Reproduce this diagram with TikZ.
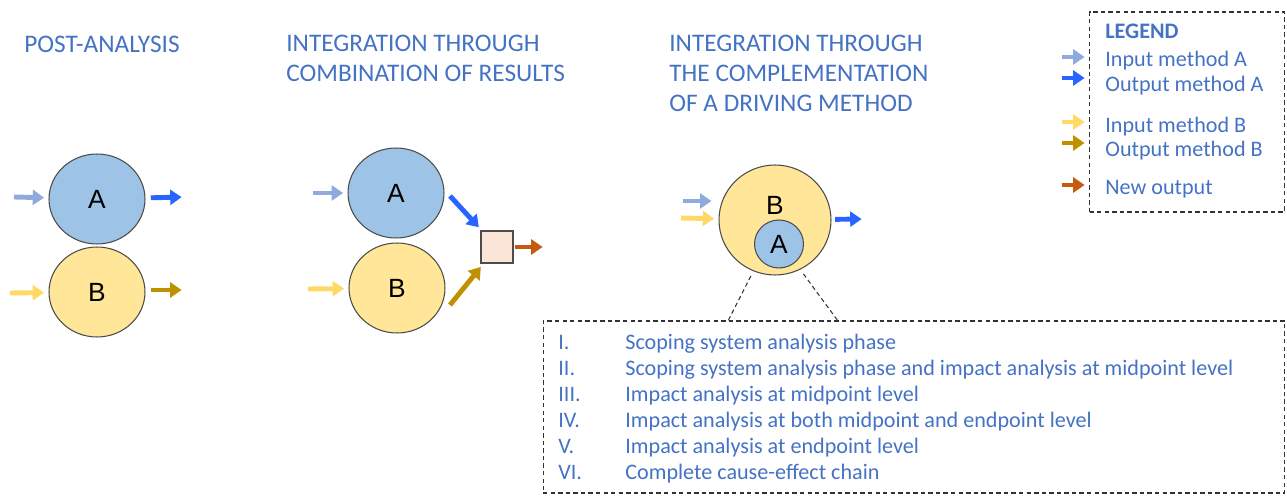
\documentclass[tikz,border=0pt]{standalone}
\usepackage{fontspec}
\setmainfont{Carlito}
\newfontfamily\circfont{Liberation Sans}
\usetikzlibrary{shapes.geometric}
\usetikzlibrary{positioning}
\usetikzlibrary{arrows.meta}
\definecolor{txtblue}{RGB}{68,114,196}
\definecolor{fillA}{RGB}{157,195,230}
\definecolor{fillB}{RGB}{255,230,153}
\definecolor{inA}{RGB}{143,170,220}
\definecolor{outA}{RGB}{40,100,255}
\definecolor{inB}{RGB}{255,217,102}
\definecolor{outB}{RGB}{191,144,0}
\definecolor{newout}{RGB}{197,90,17}
\definecolor{boxfill}{RGB}{251,229,214}
\tikzset{
    methA/.style = {ellipse, draw=black!70, line width=0.6pt, fill=fillA, minimum width=1.92cm, minimum height=1.8cm, inner sep=0pt, font=\circfont\fontsize{15}{15}\selectfont},
    methB/.style = {methA, fill=fillB},
    letter/.style = {inner sep=0pt, font=\circfont\fontsize{15}{15}\selectfont},
    arr/.style = {-{Triangle[length=6.5pt,width=8.5pt]}, line width=2.8pt, shorten >=2.5pt},
    arrinA/.style = {arr, inA},
    arroutA/.style = {arr, outA},
    arrinB/.style = {arr, inB},
    arroutB/.style = {arr, outB},
    arrnew/.style = {arr, newout},
    title/.style = {anchor=north west, align=left, inner sep=0pt, text=txtblue, font=\fontsize{14.4}{17}\selectfont},
    legtext/.style = {anchor=base west, inner sep=0pt, text=txtblue, font=\fontsize{12.6}{14}\selectfont},
    dashbox/.style = {draw=black!80, line width=0.6pt, dash pattern=on 2.5pt off 1.8pt, inner sep=0pt},
}

\begin{document}
\begin{tikzpicture}[x=0.02cm, y=-0.02cm]
\useasboundingbox (0,0) rectangle (1287,496);
% titles
\node[title] at (24,36) (t1) {POST-ANALYSIS};
\node[title] at (286,35) (t2) {INTEGRATION THROUGH\\COMBINATION OF RESULTS};
\node[title] at (669,35) (t3) {INTEGRATION THROUGH\\THE COMPLEMENTATION\\OF A DRIVING METHOD};
%
% post-analysis
\node[methA] at (97,199) (a1) {A};
\node[methB] at (97,292) (b1) {B};
\coordinate (ia1) at (14,197);
\coordinate (oa1) at (186,197);
\coordinate (ib1) at (10,293);
\coordinate (ob1) at (186,290);
\draw[arrinA] (ia1) -- (a1);
\draw[arroutA, shorten <=3pt] (a1) -- (oa1);
\draw[arrinB] (ib1) -- (b1);
\draw[arroutB, shorten <=3pt] (b1.east |- ob1) -- (ob1);
%
% combination of results
\node[methA] at (396,193) (a2) {A};
\node[methB] at (397,288) (b2) {B};
\node[draw=black!70, line width=0.6pt, fill=boxfill, minimum size=0.64cm, inner sep=0pt] at (497,247) (sq) {};
\coordinate (ia2) at (313,193);
\coordinate (ib2) at (308,289);
\coordinate (sa2) at (450,196);
\coordinate (sb2) at (450,305);
\coordinate (on2) at (547,247);
\draw[arrinA] (ia2) -- (a2);
\draw[arrinB] (ib2) -- (b2);
\draw[arroutA] (sa2) -- (sq);
\draw[arroutB] (sb2) -- (sq);
\draw[arrnew, shorten <=1pt] (sq) -- (on2);
%
% driving method
\node[methB, minimum width=2.24cm, minimum height=2.2cm] at (775,220) (b3) {};
\node[letter] at (775,205) (b3t) {B};
\node[methA, minimum width=0.98cm, minimum height=0.96cm] at (779,244) (a3) {A};
\coordinate (ia3) at (683,201);
\coordinate (ib3) at (681,218);
\coordinate (oa3) at (866,219);
\draw[arrinA, shorten >=4pt] (ia3) -- (ia3 -| b3.west);
\draw[arrinB] (ib3) -- (b3);
\draw[arroutA, shorten <=2pt] (b3) -- (oa3);
%
% phases
\node[dashbox, minimum width=14.84cm, minimum height=3.44cm] at (914,407) (list) {};
\coordinate (l1) at (728,321);
\coordinate (l2) at (838,321);
\draw[dashbox, shorten <=3pt] (b3.247) -- (l1);
\draw[dashbox, shorten <=3pt] (b3.297) -- (l2);
\foreach \n/\t [count=\i] in {I./Scoping system analysis phase,
    II./Scoping system analysis phase and impact analysis at midpoint level,
    III./Impact analysis at midpoint level,
    IV./Impact analysis at both midpoint and endpoint level,
    V./Impact analysis at endpoint level,
    VI./Complete cause-effect chain}
{
    \node[legtext] at (558,323+26*\i) (num\i) {\n};
    \node[legtext] at (625,323+26*\i) (item\i) {\t};
}
%
% legend
\node[dashbox, minimum width=3.9cm, minimum height=4cm] at (1187,112) (leg) {};
\node[legtext, font=\fontsize{12.6}{14}\selectfont\bfseries] at (1105,39) (lg) {LEGEND};
\node[legtext] at (1105,67) (lg1) {Input method A};
\node[legtext] at (1105,92) (lg2) {Output method A};
\node[legtext] at (1105,133) (lg3) {Input method B};
\node[legtext] at (1105,157) (lg4) {Output method B};
\node[legtext] at (1105,195) (lg5) {New output};
\coordinate (k1) at (1062,57);
\coordinate (k2) at (1062,78);
\coordinate (k3) at (1062,122);
\coordinate (k4) at (1062,143);
\coordinate (k5) at (1062,185);
\draw[arrinA] (k1) -- (k1 -| leg.west);
\draw[arroutA] (k2) -- (k2 -| leg.west);
\draw[arrinB] (k3) -- (k3 -| leg.west);
\draw[arroutB] (k4) -- (k4 -| leg.west);
\draw[arrnew] (k5) -- (k5 -| leg.west);
\end{tikzpicture}
\end{document}
